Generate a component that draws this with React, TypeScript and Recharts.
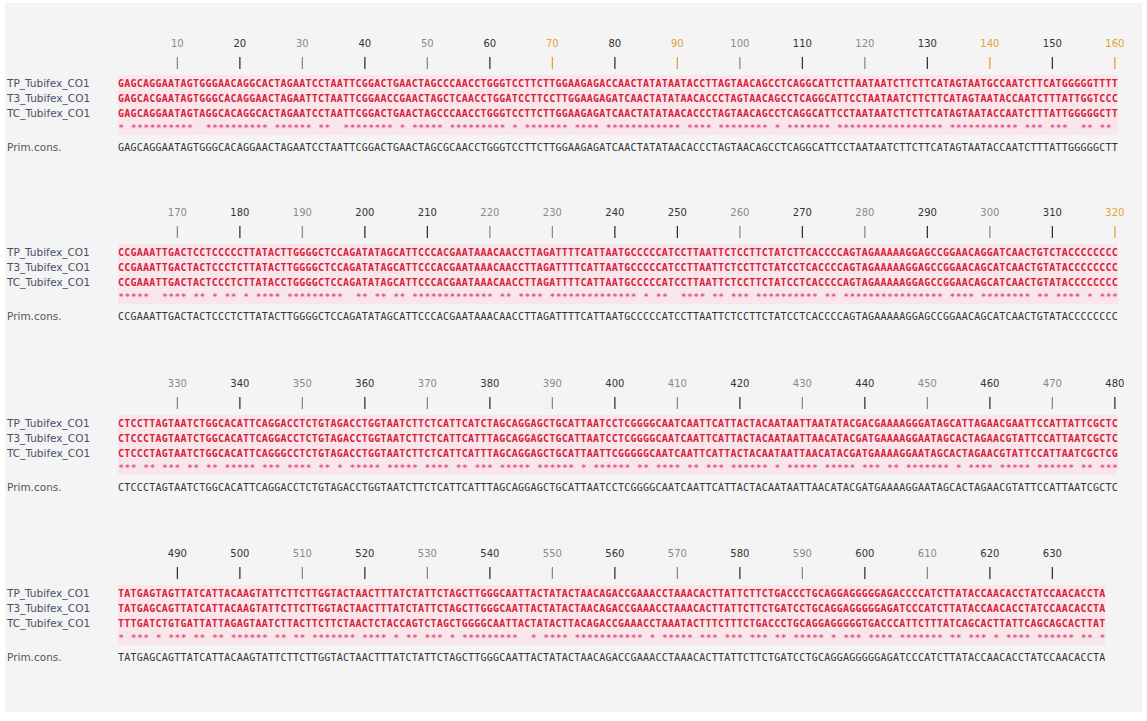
import React from 'react';
import { ScatterChart, Scatter, XAxis, YAxis, ReferenceArea } from 'recharts';

// ---------- data ----------
const rowNames = ['TP_Tubifex_CO1', 'T3_Tubifex_CO1', 'TC_Tubifex_CO1', '', 'Prim.cons.'];
const blockOffsets = [0, 160, 320, 480];
const rulerTicks = [
  [10, 20, 30, 40, 50, 60, 70, 80, 90, 100, 110, 120, 130, 140, 150, 160],
  [10, 20, 30, 40, 50, 60, 70, 80, 90, 100, 110, 120, 130, 140, 150, 160],
  [10, 20, 30, 40, 50, 60, 70, 80, 90, 100, 110, 120, 130, 140, 150, 160],
  [10, 20, 30, 40, 50, 60, 70, 80, 90, 100, 110, 120, 130, 140, 150],
];
// d = dark, g = grey, o = orange
const tickShades = [
  'gdgdgdodogdgdodo',
  'gdgddggddgdgdgdo',
  'gdgdgdgdgdgdgdgd',
  'ddgdgdgdgdgdgdd',
];
const tpSeq = [
  'GAGCAGGAAT AGTGGGAACA GGCACTAGAA TCCTAATTCG GACTGAACTA GCCCAACCTG GGTCCTTCTT GGAAGAGACC AACTATATAA TACCTTAGTA ACAGCCTCAG GCATTCTTAA TAATCTTCTT CATAGTAATG CCAATCTTCA TGGGGGTTTT',
  'CCGAAATTGA CTCCTCCCCC TTATACTTGG GGCTCCAGAT ATAGCATTCC CACGAATAAA CAACCTTAGA TTTTCATTAA TGCCCCCATC CTTAATTCTC CTTCTATCTT CACCCCAGTA GAAAAAGGAG CCGGAACAGG ATCAACTGTC TACCCCCCCC',
  'CTCCTTAGTA ATCTGGCACA TTCAGGACCT CTGTAGACCT GGTAATCTTC TCATTCATCT AGCAGGAGCT GCATTAATCC TCGGGGCAAT CAATTCATTA CTACAATAAT TAATATACGA CGAAAAGGGA TAGCATTAGA ACGAATTCCA TTATTCGCTC',
  'TATGAGTAGT TATCATTACA AGTATTCTTC TTGGTACTAA CTTTATCTAT TCTAGCTTGG GCAATTACTA TACTAACAGA CCGAAACCTA AACACTTATT CTTCTGACCC TGCAGGAGGG GGAGACCCCA TCTTATACCA ACACCTATCC AACACCTA',
];
const t3Seq = [
  'GAGCACGAAT AGTGGGCACA GGAACTAGAA TTCTAATTCG GAACCGAACT AGCTCAACCT GGATCCTTCC TTGGAAGAGA TCAACTATAT AACACCCTAG TAACAGCCTC AGGCATTCCT AATAATCTTC TTCATAGTAA TACCAATCTT TATTGGTCCC',
  'CCGAAATTGA CTACTCCCTC TTATACTTGG GGCTCCAGAT ATAGCATTCC CACGAATAAA CAACCTTAGA TTTTCATTAA TGCCCCCATC CTTAATTCTC CTTCTATCCT CACCCCAGTA GAAAAAGGAG CCGGAACAGC ATCAACTGTA TACCCCCCCC',
  'CTCCCTAGTA ATCTGGCACA TTCAGGACCT CTGTAGACCT GGTAATCTTC TCATTCATTT AGCAGGAGCT GCATTAATCC TCGGGGCAAT CAATTCATTA CTACAATAAT TAACATACGA TGAAAAGGAA TAGCACTAGA ACGTATTCCA TTAATCGCTC',
  'TATGAGCAGT TATCATTACA AGTATTCTTC TTGGTACTAA CTTTATCTAT TCTAGCTTGG GCAATTACTA TACTAACAGA CCGAAACCTA AACACTTATT CTTCTGATCC TGCAGGAGGG GGAGATCCCA TCTTATACCA ACACCTATCC AACACCTA',
];
const tcSeq = [
  'GAGCAGGAAT AGTAGGCACA GGCACTAGAA TCCTAATTCG GACTGAACTA GCCCAACCTG GGTCCTTCTT GGAAGAGATC AACTATATAA CACCCTAGTA ACAGCCTCAG GCATTCCTAA TAATCTTCTT CATAGTAATA CCAATCTTTA TTGGGGGCTT',
  'CCGAAATTGA CTACTCCCTC TTATACCTGG GGCTCCAGAT ATAGCATTCC CACGAATAAA CAACCTTAGA TTTTCATTAA TGCCCCCATC CTTAATTCTC CTTCTATCCT CACCCCAGTA GAAAAAGGAG CCGGAACAGC ATCAACTGTA TACCCCCCCC',
  'CTCCCTAGTA ATCTGGCACA TTCAGGGCCT CTGTAGACCT GGTAATCTTC TCATTCATTT AGCAGGAGCT GCATTAATTC GGGGGCAATC AATTCATTAC TACAATAATT AACATACGAT GAAAAGGAAT AGCACTAGAA CGTATTCCAT TAATCGCTCG',
  'TTTGATCTGT GATTATTAGA GTAATCTTAC TTCTTCTAAC TCTACCAGTC TAGCTGGGGC AATTACTATA CTTACAGACC GAAACCTAAA TACTTTCTTT CTGACCCTGC AGGAGGGGGT GACCCATTCT TTATCAGCAC TTATTCAGCA GCACTTAT',
];
const matchRow = [
  '*.******** **..****** ****.***** *.**..**** ****.*.*** **.******* **.*.***** **.****.** ********** .****.**** ****.*.*** ****.***** ********** **.******* ****.***.* **..**.**.',
  '*****..*** *.**.*.**. *.****.*** ******..** .**.**.*** ********** .**.****.* ********** ***.*.**.. ****.**.** *.******** **.**.**** ********** **.****.** ******.**. ****.*.***',
  '***.**.*** .**.**.*** **.***.*** *.**.*.*** **.*****.* ***.**.*** .*****.*** ***.*.**** **.**.**** .**.***.** ****.*.*** **.*****.* **.**.**** ***.*.**** .*****.*** ***.**.***',
  '*.***.*.** *.**.**.** ****.**.** .*******.* ***.*.**.* **.*.***** ****..*.** **.******* ****.*.*** **.***.*** .***.**.** ***.*.***. ****.***** **.**.***. *.****.*** ***.**.*',
];
const consSeq = [
  'GAGCAGGAAT AGTGGGCACA GGAACTAGAA TCCTAATTCG GACTGAACTA GCGCAACCTG GGTCCTTCTT GGAAGAGATC AACTATATAA CACCCTAGTA ACAGCCTCAG GCATTCCTAA TAATCTTCTT CATAGTAATA CCAATCTTTA TTGGGGGCTT',
  'CCGAAATTGA CTACTCCCTC TTATACTTGG GGCTCCAGAT ATAGCATTCC CACGAATAAA CAACCTTAGA TTTTCATTAA TGCCCCCATC CTTAATTCTC CTTCTATCCT CACCCCAGTA GAAAAAGGAG CCGGAACAGC ATCAACTGTA TACCCCCCCC',
  'CTCCCTAGTA ATCTGGCACA TTCAGGACCT CTGTAGACCT GGTAATCTTC TCATTCATTT AGCAGGAGCT GCATTAATCC TCGGGGCAAT CAATTCATTA CTACAATAAT TAACATACGA TGAAAAGGAA TAGCACTAGA ACGTATTCCA TTAATCGCTC',
  'TATGAGCAGT TATCATTACA AGTATTCTTC TTGGTACTAA CTTTATCTAT TCTAGCTTGG GCAATTACTA TACTAACAGA CCGAAACCTA AACACTTATT CTTCTGATCC TGCAGGAGGG GGAGATCCCA TCTTATACCA ACACCTATCC AACACCTA',
];

// ---------- layout ----------
const blockTops = [70, 239, 410, 580];
const rowY = [13, 28, 43, 58, 77];
const rowColors = ['#d81e3c', '#d81e3c', '#d81e3c', '#e4558a', '#333333'];
const shadeColor: Record<string, string> = { d: '#333333', g: '#8a8a8a', o: '#e2a23a' };

const clean = (s: string) => s.replace(/ /g, '');

function rowData(seq: string, y: number) {
  return clean(seq)
    .split('')
    .map((ch, i) => ({ x: i + 1, y, ch }))
    .filter((d) => d.ch !== '.');
}

const makeShape = (color: string, size: number, weight: number) => (props: any) => {
  const { cx, cy, payload } = props;
  if (cx == null || cy == null) return <g />;
  return (
    <text
      x={cx}
      y={cy}
      textAnchor="middle"
      dominantBaseline="central"
      fontFamily="'DejaVu Sans Mono', monospace"
      fontSize={size}
      fontWeight={weight}
      fill={color}
    >
      {payload.ch}
    </text>
  );
};

function Block({ b }: { b: number }) {
  const rows = [tpSeq[b], t3Seq[b], tcSeq[b], matchRow[b], consSeq[b]];
  const len = clean(tpSeq[b]).length;
  const shades = tickShades[b];
  const ticks = rulerTicks[b];
  const XTick = (props: any) => {
    const { x, y, payload, index } = props;
    const c = shadeColor[shades[index] || 'd'];
    return (
      <g>
        <line x1={x} x2={x} y1={y - 13} y2={y - 1} stroke={c} strokeWidth={1.3} />
        <text
          x={x}
          y={y - 23}
          textAnchor="middle"
          fontFamily="'DejaVu Sans', sans-serif"
          fontSize={10}
          fill={c}
        >
          {payload.value + blockOffsets[b]}
        </text>
      </g>
    );
  };
  const YTick = (props: any) => {
    const { y, payload } = props;
    const idx = rowY.indexOf(payload.value);
    return (
      <text
        x={7}
        y={y}
        dominantBaseline="central"
        fontFamily="'DejaVu Sans', sans-serif"
        fontSize={10.5}
        fill={idx === 4 ? '#555' : '#4a4f66'}
      >
        {rowNames[idx]}
      </text>
    );
  };
  return (
    <div style={{ position: 'absolute', left: 0, top: blockTops[b] - 40 }}>
      <ScatterChart width={1147} height={170} margin={{ top: 10, right: 29, bottom: 30, left: 0 }}>
        <XAxis
          type="number"
          dataKey="x"
          orientation="top"
          domain={[0.5, 160.5]}
          ticks={ticks}
          interval={0}
          height={30}
          axisLine={false}
          tickLine={false}
          tickSize={0}
          tickMargin={0}
          tick={<XTick />}
          allowDataOverflow
        />
        <YAxis
          type="number"
          dataKey="y"
          domain={[0, 100]}
          reversed
          ticks={[13, 28, 43, 77]}
          interval={0}
          width={118}
          axisLine={false}
          tickLine={false}
          tick={<YTick />}
        />
        <ReferenceArea
          x1={0.5}
          x2={len + 0.5}
          y1={5}
          y2={65}
          fill="#fbe1e7"
          fillOpacity={0.75}
          stroke="none"
          ifOverflow="hidden"
        />
        {rows.map((seq, r) => (
          <Scatter
            key={r}
            data={rowData(seq, rowY[r])}
            isAnimationActive={false}
            shape={makeShape(rowColors[r], r === 3 ? 9 : 10, r === 4 ? 400 : 700)}
          />
        ))}
      </ScatterChart>
    </div>
  );
}

export default function App() {
  return (
    <div
      style={{
        position: 'absolute',
        left: 0,
        top: 0,
        width: 1147,
        height: 721,
        background: '#ffffff',
        overflow: 'hidden',
      }}
    >
      <div
        style={{
          position: 'absolute',
          left: 5,
          top: 3,
          width: 1137,
          height: 709,
          background: '#f4f4f4',
        }}
      />
      {[0, 1, 2, 3].map((b) => (
        <Block key={b} b={b} />
      ))}
    </div>
  );
}
